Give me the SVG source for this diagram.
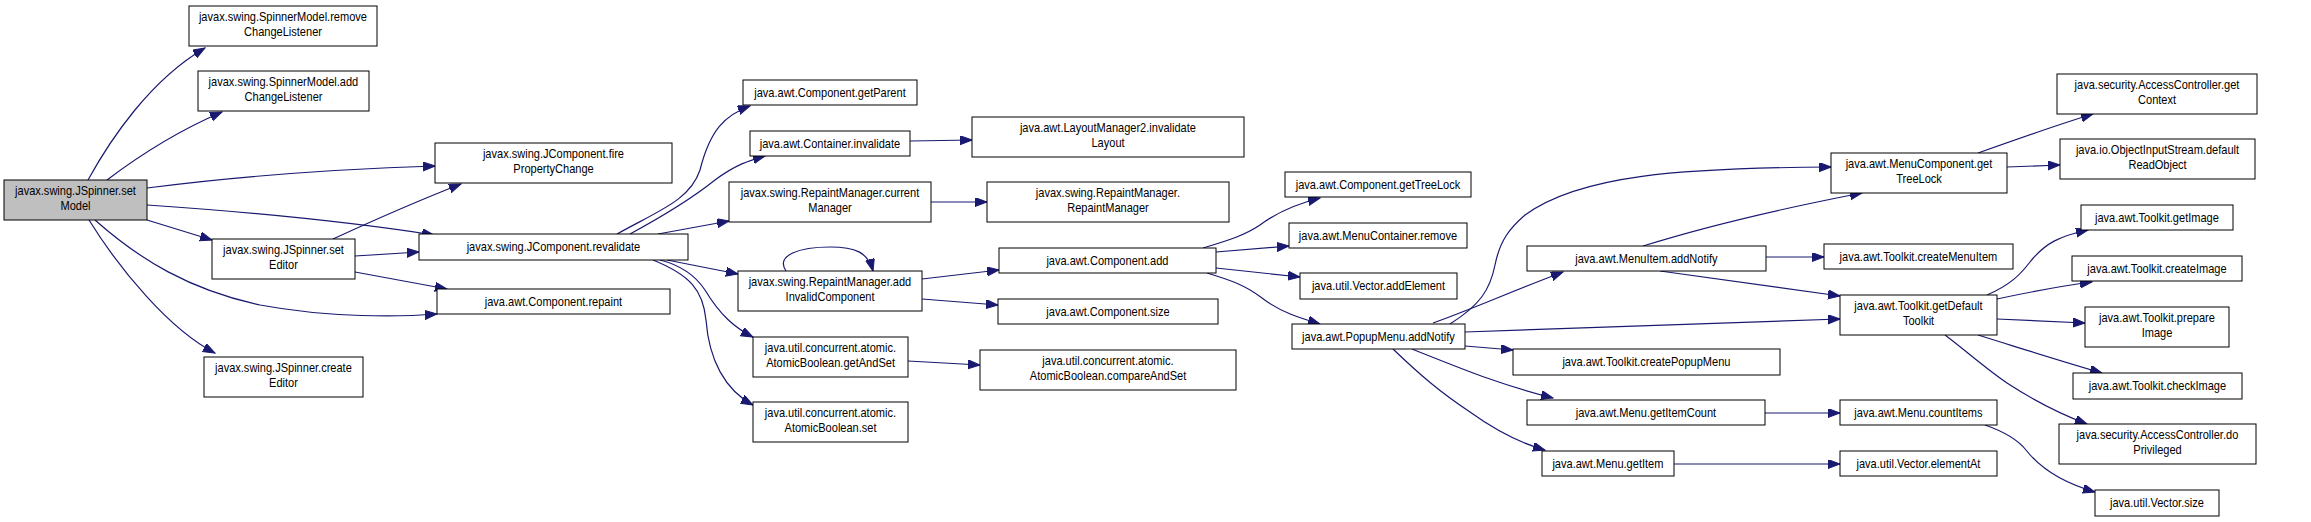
<svg xmlns="http://www.w3.org/2000/svg" width="2311" height="522" viewBox="0 0 2311 522">
<style>
.n rect{fill:#fff;stroke:#000;stroke-width:1}
.root rect{fill:#bfbfbf}
text{font-family:"Liberation Sans",Arial,sans-serif;font-size:13px;text-anchor:middle;fill:#000;transform-box:fill-box;transform-origin:center;transform:scaleX(0.85)}
.e path{fill:none;stroke:#191970;stroke-width:1.2;marker-end:url(#ah)}
</style>
<defs>
<marker id="ah" markerUnits="userSpaceOnUse" markerWidth="13" markerHeight="10" refX="12" refY="4.5" orient="auto">
<path d="M0,0 L12,4.5 L0,9 z" fill="#191970" stroke="#191970" stroke-width="1"/>
</marker>
</defs>
<rect width="2311" height="522" fill="#fff"/>
<g id="edges" class="e">
<path d="M88,180 C110,140 150,80 205,48"/>
<path d="M107,180 C140,155 180,130 222,112"/>
<path d="M147,188 C240,176 340,169 435,166"/>
<path d="M147,205 C250,212 350,222 434,235"/>
<path d="M147,220 L212,240"/>
<path d="M95,220 C140,260 190,290 260,305 C330,318 400,317 437,314"/>
<path d="M89,220 C120,270 170,330 215,353"/>
<path d="M333,239 C370,222 420,200 461,184"/>
<path d="M355,256 L419,252"/>
<path d="M355,272 L447,289"/>
<path d="M617,234 C660,210 690,200 700,170 C710,130 725,115 750,106"/>
<path d="M630,234 C665,215 690,200 715,180 C735,165 750,160 765,156"/>
<path d="M658,234 L729,221"/>
<path d="M667,260 L738,274"/>
<path d="M660,260 C680,265 695,275 705,290 C720,315 735,328 753,337"/>
<path d="M653,260 C690,275 703,290 706,320 C709,360 725,390 753,405"/>
<path d="M910,141 L972,140"/>
<path d="M931,202 L987,202"/>
<path d="M786,271 C775,255 800,247 830,247 C855,247 868,252 873,271"/>
<path d="M922,279 L999,270"/>
<path d="M922,299 L998,305"/>
<path d="M908,361 L980,365"/>
<path d="M1203,248 C1230,240 1245,235 1260,225 C1280,210 1300,203 1320,198"/>
<path d="M1216,252 L1289,246"/>
<path d="M1216,268 L1300,277"/>
<path d="M1207,273 C1230,280 1245,285 1262,298 C1280,312 1300,318 1320,324"/>
<path d="M1450,324 C1480,305 1490,290 1495,265 C1500,240 1510,228 1525,215 C1580,175 1680,168 1831,167"/>
<path d="M1433,323 C1470,310 1510,292 1563,272"/>
<path d="M1465,332 C1600,327 1720,322 1840,319"/>
<path d="M1465,346 L1513,350"/>
<path d="M1412,349 C1460,368 1500,385 1553,398"/>
<path d="M1393,349 C1420,375 1440,392 1470,412 C1495,430 1520,443 1545,450"/>
<path d="M1643,246 C1720,222 1800,205 1862,193"/>
<path d="M1766,257 L1824,257"/>
<path d="M1660,271 L1840,296"/>
<path d="M1978,153 C2020,138 2060,124 2093,114"/>
<path d="M2007,167 L2060,165"/>
<path d="M1987,295 C2010,285 2020,275 2030,262 C2045,243 2060,236 2088,230"/>
<path d="M1997,299 C2030,292 2060,286 2092,282"/>
<path d="M1997,319 L2085,323"/>
<path d="M1978,335 C2020,348 2060,361 2102,373"/>
<path d="M1945,335 C1965,350 1985,368 2007,383 C2030,398 2055,412 2087,424"/>
<path d="M1765,413 L1840,413"/>
<path d="M1674,464 L1840,464"/>
<path d="M1985,425 C2005,432 2018,440 2026,450 C2040,468 2060,482 2095,492"/>
</g>
<g id="n0" class="n root"><rect x="4" y="180" width="143" height="40"/><text x="75.5" y="195.5">javax.swing.JSpinner.set</text><text x="75.5" y="210.5">Model</text></g>
<g id="n1" class="n"><rect x="189" y="6" width="188" height="40"/><text x="283" y="21.5">javax.swing.SpinnerModel.remove</text><text x="283" y="36.5">ChangeListener</text></g>
<g id="n2" class="n"><rect x="198" y="71" width="171" height="40"/><text x="283.5" y="86.5">javax.swing.SpinnerModel.add</text><text x="283.5" y="101.5">ChangeListener</text></g>
<g id="n3" class="n"><rect x="435" y="143" width="237" height="40"/><text x="553.5" y="158.5">javax.swing.JComponent.fire</text><text x="553.5" y="173.5">PropertyChange</text></g>
<g id="n4" class="n"><rect x="419" y="234" width="269" height="26"/><text x="553.5" y="251.5">javax.swing.JComponent.revalidate</text></g>
<g id="n5" class="n"><rect x="212" y="239" width="143" height="40"/><text x="283.5" y="254.5">javax.swing.JSpinner.set</text><text x="283.5" y="269.5">Editor</text></g>
<g id="n6" class="n"><rect x="437" y="289" width="233" height="25"/><text x="553.5" y="306">java.awt.Component.repaint</text></g>
<g id="n7" class="n"><rect x="204" y="357" width="159" height="40"/><text x="283.5" y="372.5">javax.swing.JSpinner.create</text><text x="283.5" y="387.5">Editor</text></g>
<g id="n8" class="n"><rect x="743" y="80" width="174" height="25"/><text x="830" y="97">java.awt.Component.getParent</text></g>
<g id="n9" class="n"><rect x="750" y="131" width="160" height="25"/><text x="830" y="148">java.awt.Container.invalidate</text></g>
<g id="n10" class="n"><rect x="972" y="117" width="272" height="40"/><text x="1108" y="132.5">java.awt.LayoutManager2.invalidate</text><text x="1108" y="147.5">Layout</text></g>
<g id="n11" class="n"><rect x="729" y="182" width="202" height="40"/><text x="830" y="197.5">javax.swing.RepaintManager.current</text><text x="830" y="212.5">Manager</text></g>
<g id="n12" class="n"><rect x="987" y="182" width="242" height="40"/><text x="1108" y="197.5">javax.swing.RepaintManager.</text><text x="1108" y="212.5">RepaintManager</text></g>
<g id="n13" class="n"><rect x="738" y="271" width="184" height="40"/><text x="830" y="286.5">javax.swing.RepaintManager.add</text><text x="830" y="301.5">InvalidComponent</text></g>
<g id="n14" class="n"><rect x="753" y="337" width="155" height="40"/><text x="830.5" y="352.5">java.util.concurrent.atomic.</text><text x="830.5" y="367.5">AtomicBoolean.getAndSet</text></g>
<g id="n15" class="n"><rect x="753" y="402" width="155" height="40"/><text x="830.5" y="417.5">java.util.concurrent.atomic.</text><text x="830.5" y="432.5">AtomicBoolean.set</text></g>
<g id="n16" class="n"><rect x="999" y="248" width="217" height="25"/><text x="1107.5" y="265">java.awt.Component.add</text></g>
<g id="n17" class="n"><rect x="998" y="299" width="220" height="25"/><text x="1108" y="316">java.awt.Component.size</text></g>
<g id="n18" class="n"><rect x="980" y="350" width="256" height="40"/><text x="1108" y="365.5">java.util.concurrent.atomic.</text><text x="1108" y="380.5">AtomicBoolean.compareAndSet</text></g>
<g id="n19" class="n"><rect x="1285" y="172" width="186" height="25"/><text x="1378" y="189">java.awt.Component.getTreeLock</text></g>
<g id="n20" class="n"><rect x="1289" y="223" width="178" height="25"/><text x="1378" y="240">java.awt.MenuContainer.remove</text></g>
<g id="n21" class="n"><rect x="1300" y="273" width="157" height="26"/><text x="1378.5" y="290.5">java.util.Vector.addElement</text></g>
<g id="n22" class="n"><rect x="1292" y="324" width="173" height="25"/><text x="1378.5" y="341">java.awt.PopupMenu.addNotify</text></g>
<g id="n23" class="n"><rect x="1527" y="246" width="239" height="25"/><text x="1646.5" y="263">java.awt.MenuItem.addNotify</text></g>
<g id="n24" class="n"><rect x="1513" y="349" width="267" height="26"/><text x="1646.5" y="366.5">java.awt.Toolkit.createPopupMenu</text></g>
<g id="n25" class="n"><rect x="1527" y="400" width="238" height="25"/><text x="1646" y="417">java.awt.Menu.getItemCount</text></g>
<g id="n26" class="n"><rect x="1542" y="451" width="132" height="25"/><text x="1608" y="468">java.awt.Menu.getItem</text></g>
<g id="n27" class="n"><rect x="1831" y="153" width="176" height="40"/><text x="1919" y="168.5">java.awt.MenuComponent.get</text><text x="1919" y="183.5">TreeLock</text></g>
<g id="n28" class="n"><rect x="2057" y="74" width="200" height="40"/><text x="2157" y="89.5">java.security.AccessController.get</text><text x="2157" y="104.5">Context</text></g>
<g id="n29" class="n"><rect x="2060" y="139" width="195" height="40"/><text x="2157.5" y="154.5">java.io.ObjectInputStream.default</text><text x="2157.5" y="169.5">ReadObject</text></g>
<g id="n30" class="n"><rect x="1824" y="244" width="189" height="25"/><text x="1918.5" y="261">java.awt.Toolkit.createMenuItem</text></g>
<g id="n31" class="n"><rect x="1840" y="295" width="157" height="40"/><text x="1918.5" y="310.5">java.awt.Toolkit.getDefault</text><text x="1918.5" y="325.5">Toolkit</text></g>
<g id="n32" class="n"><rect x="2081" y="205" width="152" height="25"/><text x="2157" y="222">java.awt.Toolkit.getImage</text></g>
<g id="n33" class="n"><rect x="2072" y="256" width="170" height="25"/><text x="2157" y="273">java.awt.Toolkit.createImage</text></g>
<g id="n34" class="n"><rect x="2085" y="307" width="144" height="40"/><text x="2157" y="322.5">java.awt.Toolkit.prepare</text><text x="2157" y="337.5">Image</text></g>
<g id="n35" class="n"><rect x="2073" y="373" width="169" height="26"/><text x="2157.5" y="390.5">java.awt.Toolkit.checkImage</text></g>
<g id="n36" class="n"><rect x="2059" y="424" width="197" height="40"/><text x="2157.5" y="439.5">java.security.AccessController.do</text><text x="2157.5" y="454.5">Privileged</text></g>
<g id="n37" class="n"><rect x="1840" y="400" width="157" height="25"/><text x="1918.5" y="417">java.awt.Menu.countItems</text></g>
<g id="n38" class="n"><rect x="1840" y="451" width="157" height="25"/><text x="1918.5" y="468">java.util.Vector.elementAt</text></g>
<g id="n39" class="n"><rect x="2095" y="490" width="124" height="26"/><text x="2157" y="507.5">java.util.Vector.size</text></g>
</svg>
